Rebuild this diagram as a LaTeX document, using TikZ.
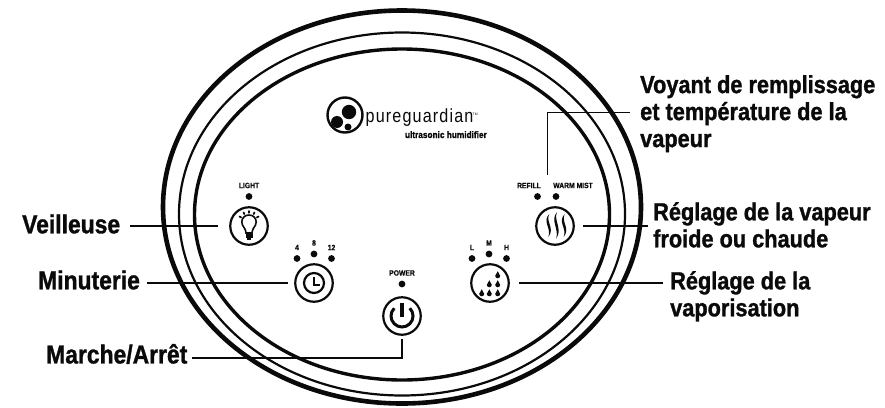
\documentclass[tikz,border=0pt]{standalone}
\usepackage{fontspec}
\setmainfont{Liberation Sans}
\newfontfamily\calloutfont[FakeStretch=0.88,FakeBold=1.2]{Liberation Sans Bold}
\newfontfamily\tinyfont[FakeStretch=0.88,FakeBold=0.5]{Liberation Sans Bold}
\newfontfamily\brandfont[FakeStretch=0.85,LetterSpace=6]{Liberation Sans}
\usetikzlibrary{positioning}
\definecolor{PanelBlack}{RGB}{10,10,10}

\begin{document}
\begin{tikzpicture}[
  x=1pt,y=-1pt,
  callout/.style={font=\calloutfont\fontsize{24.7}{27}\selectfont,align=left,inner sep=0pt,text=PanelBlack},
  calloutleft/.style={callout,font=\calloutfont\fontsize{26}{27}\selectfont},
  tag/.style={font=\tinyfont\fontsize{7.7}{8}\selectfont,inner sep=0pt,text=PanelBlack},
  btn/.style={circle,draw=PanelBlack,line width=2.2pt,minimum size=37.5pt,inner sep=0pt},
  led/.style={circle,fill=PanelBlack,minimum size=6.8pt,inner sep=0pt},
  lead/.style={draw=PanelBlack,line width=1.2pt},
  icon/.style={draw=PanelBlack,line width=1.6pt,line cap=round},
]
\useasboundingbox (0,0) rectangle (885,407);
% panel rings
\draw[PanelBlack,line width=4.6pt] (402,207) ellipse [x radius=239,y radius=196.5];
\draw[PanelBlack,line width=2.2pt] (402,214) ellipse [x radius=223,y radius=181.5];
\draw[PanelBlack,line width=3.4pt] (402,214.5) ellipse [x radius=207.5,y radius=165.5];

% logo
\draw[PanelBlack,line width=2.4pt] (345,115) circle [radius=17.5];
\fill[PanelBlack] (349,112) circle [radius=7.2];
\fill[PanelBlack] (337,122) circle [radius=6];
\fill[PanelBlack] (348,127) circle [radius=3.5];
\node[inner sep=0pt,anchor=base west,font=\brandfont\fontsize{19}{20}\selectfont,text=PanelBlack] (brand) at (365.5,122) {pureguardian};
\node[inner sep=0pt,anchor=base west,font=\fontsize{3.4}{4}\selectfont,text=PanelBlack] (tm) at (472.5,115.5) {TM};
\node[tag,anchor=base east,font=\calloutfont\fontsize{9.4}{10}\selectfont] (model) at (487,138) {ultrasonic humidifier};

% buttons
\node[btn] (light) at (249,226) {};
\node[btn] (timer) at (314,283) {};
\node[btn] (power) at (402,316) {};
\node[btn] (mist) at (490,283) {};
\node[btn] (heat) at (555,226) {};

% leds and their tags
\node[led] (ledlight) at (249,196.5) {};
\node[tag,above=4.5pt of ledlight] (taglight) {LIGHT};
\foreach \nm/\px/\py/\tx in {a/297/258.5/4,b/314/254/8,c/331.5/258.5/12}{
  \node[led] (ledtime\nm) at (\px,\py) {};
  \node[tag,above=4.5pt of ledtime\nm] (tagtime\nm) {\tx};
}
\foreach \nm/\px/\py/\tx in {a/472/258.5/L,b/489/254/M,c/506.5/258.5/H}{
  \node[led] (ledmist\nm) at (\px,\py) {};
  \node[tag,above=4.5pt of ledmist\nm] (tagmist\nm) {\tx};
}
\node[led] (ledpower) at (402,284) {};
\node[tag,above=4.5pt of ledpower] (tagpower) {POWER};
\node[led] (ledrefill) at (537.5,196.5) {};
\node[tag,above=4.5pt of ledrefill,xshift=-8.5pt] (tagrefill) {REFILL};
\node[led] (ledwarm) at (556,196.5) {};
\node[tag,above=4.5pt of ledwarm,xshift=17pt] (tagwarm) {WARM MIST};

% bulb
\draw[icon,line cap=butt] (246,233) .. controls (246,228) and (241.8,226.5) .. (241.8,222)
  .. controls (241.8,212.7) and (256.2,212.7) .. (256.2,222)
  .. controls (256.2,226.5) and (252,228) .. (252,233) -- cycle;
\fill[PanelBlack] (245.5,233.5) rectangle (252.5,238);
\fill[PanelBlack] (247.3,238) rectangle (250.7,240);
\foreach \ang in {-150,-120,-90,-60,-30}
  \draw[icon,line width=1.8pt] (249,222) ++(\ang:9.2) -- ++(\ang:1.8);

% clock
\draw[PanelBlack,line width=2.2pt] (timer) circle [radius=10];
\draw[icon,line cap=butt,line width=2.4pt,miter limit=4] (314,277) -- (314,285) -- (320,285);

% power symbol
\draw[icon,line cap=butt,line width=3pt] (409.8,308.2) arc [start angle=-45,end angle=225,radius=11];
\draw[icon,line cap=butt,line width=3.4pt] (402,303) -- (402,316.5);

% drops
\foreach \px/\py in {497.7/275.8,489.3/284.8,497.7/284.8,481.7/293.8,489.3/293.8,497.7/293.8}
  \fill[PanelBlack] (\px,\py-4.6) .. controls (\px+.6,\py-2) and (\px+2.5,\py-1.2) .. (\px+2.5,\py)
    arc [start angle=0,end angle=180,radius=2.5] .. controls (\px-2.5,\py-1.2) and (\px-.6,\py-2) .. (\px,\py-4.6) -- cycle;

% steam
\foreach \px/\ptop/\pbot in {547.8/214/237,555.6/212/238.5,563.2/214/237}
  \fill[PanelBlack] (\px+1.5,\ptop) .. controls (\px-6,\ptop+8) and (\px+4,\pbot-9) .. (\px+.5,\pbot)
    .. controls (\px+7.5,\pbot-9) and (\px-2.5,\ptop+8) .. (\px+1.5,\ptop) -- cycle;

% callouts
\node[calloutleft,anchor=west] (veil) at (22,224) {Veilleuse};
\node[calloutleft,anchor=west] (minu) at (38,280) {Minuterie};
\node[calloutleft,anchor=west] (marche) at (46,354) {Marche/Arr\^et};
\node[callout,anchor=north west] (voyant) at (640,75) {Voyant de remplissage\\et temp\'erature de la\\vapeur};
\node[callout,anchor=north west] (regvap) at (653,202) {R\'eglage de la vapeur\\froide ou chaude};
\node[callout,anchor=north west] (regmist) at (670,271) {R\'eglage de la\\vaporisation};

\coordinate (bendpower) at (402,358);
\coordinate (bendrefill) at (547.5,112.7);
\coordinate (ledgap) at (547.5,175);

\draw[lead,shorten <=10pt,shorten >=11pt] (veil.east |- light) -- (light.west);
\draw[lead,shorten <=7pt,shorten >=6pt] (minu.east |- timer) -- (timer.west);
\draw[lead,shorten <=4pt,shorten >=3.5pt] (marche.east |- bendpower) -- (bendpower) -- (power.south);
\draw[lead,shorten <=7pt,shorten >=9pt] (regmist.west |- mist) -- (mist.east);
\draw[lead,shorten <=5pt,shorten >=8pt] (regvap.west |- heat) -- (heat.east);
\draw[lead,shorten <=10pt] (voyant.west |- bendrefill) -- (bendrefill) -- (ledgap);
\end{tikzpicture}
\end{document}
